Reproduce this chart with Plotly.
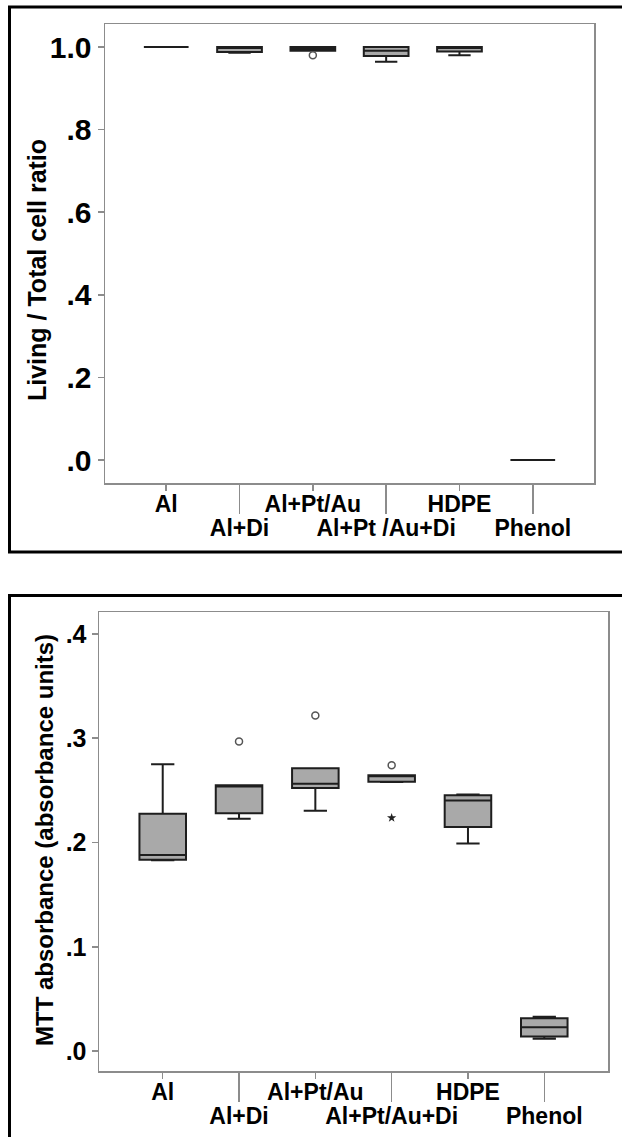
import plotly.graph_objects as go

# ---------------- data ----------------
categories_top = ["Al", "Al+Di", "Al+Pt/Au", "Al+Pt /Au+Di", "HDPE", "Phenol"]
categories_bottom = ["Al", "Al+Di", "Al+Pt/Au", "Al+Pt/Au+Di", "HDPE", "Phenol"]

# Top panel: Living / Total cell ratio
top_q1 = [1.0, 0.988, 0.991, 0.978, 0.989, 0.0]
top_median = [1.0, 0.999, 0.996, 0.991, 0.999, 0.0]
top_q3 = [1.0, 1.0, 1.0, 1.0, 1.0, 0.0]
top_lower = [1.0, 0.986, 0.991, 0.964, 0.980, 0.0]
top_upper = [1.0, 1.0, 1.0, 1.0, 1.0, 0.0]
top_outlier_cat = ["Al+Pt/Au"]
top_outlier_val = [0.980]

# Bottom panel: MTT absorbance
bot_q1 = [0.1834, 0.228, 0.2522, 0.2582, 0.2148, 0.014]
bot_median = [0.188, 0.2537, 0.2563, 0.2640, 0.2403, 0.023]
bot_q3 = [0.2275, 0.255, 0.2713, 0.2645, 0.2454, 0.0316]
bot_lower = [0.183, 0.2227, 0.2304, 0.258, 0.199, 0.012]
bot_upper = [0.275, 0.255, 0.2713, 0.2645, 0.246, 0.033]
bot_outlier_cat = ["Al+Di", "Al+Pt/Au", "Al+Pt/Au+Di"]
bot_outlier_val = [0.2968, 0.3218, 0.2742]
bot_extreme_cat = ["Al+Pt/Au+Di"]
bot_extreme_val = [0.2237]

top_yticks = [0.0, 0.2, 0.4, 0.6, 0.8, 1.0]
top_yticktext = [".0", ".2", ".4", ".6", ".8", "1.0"]
bot_yticks = [0.0, 0.1, 0.2, 0.3, 0.4]
bot_yticktext = [".0", ".1", ".2", ".3", ".4"]

top_ytitle = "Living / Total cell ratio"
bot_ytitle = "MTT absorbance (absorbance units)"

# ---------------- figure ----------------
W, H = 622, 1137
FONT = "Liberation Sans, Arial, Helvetica, sans-serif"
BOX_FILL = "#a9a9a9"
BOX_LINE = "#1e1e1e"
FRAME_GRAY = "#8c8c8c"

def px_x(v):
    return v / W

def px_y(v):
    return 1 - v / H

idx_top = list(range(len(categories_top)))
idx_bot = list(range(len(categories_bottom)))

fig = go.Figure()

fig.add_trace(go.Box(
    x=idx_top, q1=top_q1, median=top_median, q3=top_q3,
    lowerfence=top_lower, upperfence=top_upper,
    boxpoints=False, width=0.61, whiskerwidth=0.5,
    fillcolor=BOX_FILL, line=dict(color=BOX_LINE, width=2),
    xaxis="x", yaxis="y", showlegend=False, hoverinfo="skip"))

fig.add_trace(go.Scatter(
    x=[categories_top.index(c) for c in top_outlier_cat],
    y=top_outlier_val, mode="markers",
    marker=dict(symbol="circle-open", size=7, color="#555555", line=dict(width=1.5)),
    xaxis="x", yaxis="y", showlegend=False, hoverinfo="skip"))

fig.add_trace(go.Box(
    x=idx_bot, q1=bot_q1, median=bot_median, q3=bot_q3,
    lowerfence=bot_lower, upperfence=bot_upper,
    boxpoints=False, width=0.61, whiskerwidth=0.5,
    fillcolor=BOX_FILL, line=dict(color=BOX_LINE, width=2),
    xaxis="x2", yaxis="y2", showlegend=False, hoverinfo="skip"))

fig.add_trace(go.Scatter(
    x=[categories_bottom.index(c) for c in bot_outlier_cat],
    y=bot_outlier_val, mode="markers",
    marker=dict(symbol="circle-open", size=7, color="#555555", line=dict(width=1.5)),
    xaxis="x2", yaxis="y2", showlegend=False, hoverinfo="skip"))

fig.add_trace(go.Scatter(
    x=[categories_bottom.index(c) for c in bot_extreme_cat],
    y=bot_extreme_val, mode="markers",
    marker=dict(symbol="star", size=7, color="#222222"),
    xaxis="x2", yaxis="y2", showlegend=False, hoverinfo="skip"))

# invisible traces so that the staggered (second-row) label axes get drawn
fig.add_trace(go.Scatter(x=idx_top, y=top_median, mode="markers",
                         marker=dict(opacity=0), xaxis="x3", yaxis="y",
                         showlegend=False, hoverinfo="skip"))
fig.add_trace(go.Scatter(x=idx_bot, y=bot_median, mode="markers",
                         marker=dict(opacity=0), xaxis="x4", yaxis="y2",
                         showlegend=False, hoverinfo="skip"))

xr = [-0.835, len(categories_top) - 1 + 0.835]
tickfont_x = dict(family=FONT, size=23, color="black", weight="bold")

common_x = dict(range=xr, showgrid=False, zeroline=False, ticks="outside",
                tickcolor=FRAME_GRAY, tickwidth=1.5, tickfont=tickfont_x,
                fixedrange=True, ticklabelstandoff=-6)

top_dom_x = [px_x(105), px_x(594)]
top_dom_y = [px_y(483), px_y(24)]
bot_dom_x = [px_x(99), px_x(608)]
bot_dom_y = [px_y(1071), px_y(612)]

fig.update_layout(
    width=W, height=H,
    margin=dict(l=0, r=0, t=0, b=0),
    paper_bgcolor="white", plot_bgcolor="white",
    font=dict(family=FONT, color="black"),
    xaxis=dict(domain=top_dom_x, anchor="y", tickvals=idx_top[0::2],
               ticktext=categories_top[0::2], ticklen=6,
               showline=True, linecolor=FRAME_GRAY, linewidth=1.5, mirror=True,
               **common_x),
    xaxis3=dict(overlaying="x", anchor="y", side="bottom", tickvals=idx_top[1::2],
                ticktext=categories_top[1::2], ticklen=30, showline=False,
                **common_x),
    yaxis=dict(domain=top_dom_y, anchor="x", range=[-0.0557, 1.0557],
               tickvals=top_yticks, ticktext=top_yticktext,
               ticks="outside", ticklen=6, tickcolor=FRAME_GRAY, tickwidth=1.5,
               showline=True, linecolor=FRAME_GRAY, linewidth=1.5, mirror=True,
               showgrid=False, zeroline=False, fixedrange=True,
               tickfont=dict(family=FONT, size=30, color="black", weight="bold")),
    xaxis2=dict(domain=bot_dom_x, anchor="y2", tickvals=idx_bot[0::2],
                ticktext=categories_bottom[0::2], ticklen=6,
                showline=True, linecolor=FRAME_GRAY, linewidth=1.5, mirror=True,
                **common_x),
    xaxis4=dict(overlaying="x2", anchor="y2", side="bottom", tickvals=idx_bot[1::2],
                ticktext=categories_bottom[1::2], ticklen=30, showline=False,
                **common_x),
    yaxis2=dict(domain=bot_dom_y, anchor="x2", range=[-0.019, 0.421],
                tickvals=bot_yticks, ticktext=bot_yticktext,
                ticks="outside", ticklen=6, tickcolor=FRAME_GRAY, tickwidth=1.5,
                showline=True, linecolor=FRAME_GRAY, linewidth=1.5, mirror=True,
                showgrid=False, zeroline=False, fixedrange=True,
                tickfont=dict(family=FONT, size=25, color="black", weight="bold")),
)

# y-axis titles
fig.add_annotation(text=top_ytitle, xref="paper", yref="paper",
                   x=px_x(37), y=px_y(270), textangle=-90, showarrow=False,
                   xanchor="center", yanchor="middle",
                   font=dict(family=FONT, size=25, color="black", weight="bold"))
fig.add_annotation(text=bot_ytitle, xref="paper", yref="paper",
                   x=px_x(44), y=px_y(840), textangle=-90, showarrow=False,
                   xanchor="center", yanchor="middle",
                   font=dict(family=FONT, size=24, color="black", weight="bold"))

# outer panel frames
fig.add_shape(type="rect", xref="paper", yref="paper",
              x0=px_x(9.5), x1=px_x(640), y0=px_y(552), y1=px_y(7),
              line=dict(color="black", width=3), fillcolor="rgba(0,0,0,0)", layer="below")
fig.add_shape(type="rect", xref="paper", yref="paper",
              x0=px_x(9.5), x1=px_x(640), y0=px_y(1160), y1=px_y(595.5),
              line=dict(color="black", width=3), fillcolor="rgba(0,0,0,0)", layer="below")

fig.write_html("out.html",
               config={"displayModeBar": False, "staticPlot": True},
               post_script="document.body.style.margin='0';document.body.style.overflow='hidden';")
